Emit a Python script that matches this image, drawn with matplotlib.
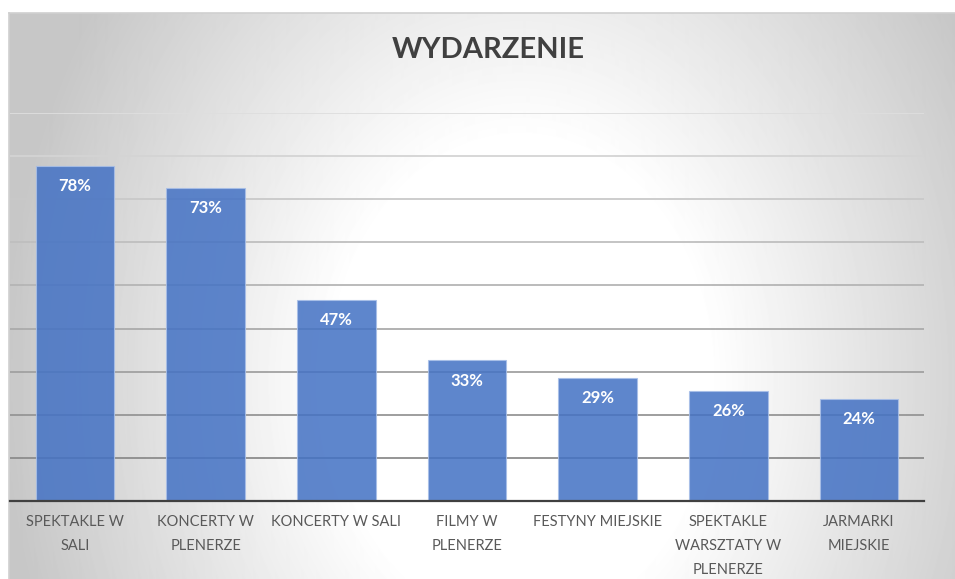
import numpy as np
import matplotlib
matplotlib.use("Agg")
import matplotlib.pyplot as plt

categories = ["SPEKTAKLE W\nSALI", "KONCERTY W\nPLENERZE", "KONCERTY W SALI",
              "FILMY W\nPLENERZE", "FESTYNY MIEJSKIE", "SPEKTAKLE\nWARSZTATY W\nPLENERZE",
              "JARMARKI\nMIEJSKIE"]
values = [0.777, 0.726, 0.466, 0.326, 0.286, 0.256, 0.236]
labels = ["78%", "73%", "47%", "33%", "29%", "26%", "24%"]
grid_ticks = [0.1, 0.2, 0.3, 0.4, 0.5, 0.6, 0.7, 0.8, 0.9]

plt.rcParams['font.family'] = ['Lato', 'DejaVu Sans']

W, H = 955, 579
fig = plt.figure(figsize=(W / 100, H / 100), dpi=100)
fig.patch.set_facecolor('white')

# chart frame with radial grey gradient
fl, fb, fw, fh = 9 / W, 0, 946 / W, 566 / H
bg = fig.add_axes([fl, fb, fw, fh], zorder=0)
xx, yy = np.meshgrid(np.arange(9, 955), np.arange(13, 579))
r = np.sqrt(((xx - 520) / 470) ** 2 + ((yy - 380) / 600) ** 2)
shade = 1 - 0.22 * np.clip((r - 0.4) / 0.7, 0, 1)
bg.imshow(shade, cmap='gray', vmin=0, vmax=1, aspect='auto', interpolation='bilinear')
bg.set_xticks([])
bg.set_yticks([])
for s in ['right', 'bottom']:
    bg.spines[s].set_visible(False)
for s in ['top', 'left']:
    bg.spines[s].set_color('#d0d0d0')
    bg.spines[s].set_linewidth(1.2)

ax = fig.add_axes([9.7 / W, 78 / H, 914.6 / W, 388 / H], zorder=1)
ax.patch.set_alpha(0)
x = np.arange(len(categories))
ax.set_xlim(-0.5, len(categories) - 0.5)
ax.set_ylim(0, 0.9)

for v in grid_ticks:
    g = 0.55 + (v - 0.1) / 0.8 * 0.32
    ax.axhline(v, color=(g, g, g), lw=1.3, zorder=1)

bars = ax.bar(x, values, width=0.6, color='#4472C4', alpha=0.86,
              edgecolor='#a8bfe8', linewidth=0.8, zorder=2)
for xi, v, lab in zip(x, values, labels):
    ax.annotate(lab, (xi, v), xytext=(0, -14.5), textcoords='offset points',
                ha='center', va='center', color='white', fontsize=12,
                fontweight='bold', zorder=3)

ax.set_yticks([])
ax.set_xticks(x)
ax.set_xticklabels(categories, fontsize=10.5, color='#595959', linespacing=1.9)
ax.tick_params(axis='x', length=0, pad=10)
for s in ['top', 'right', 'left']:
    ax.spines[s].set_visible(False)
ax.spines['bottom'].set_color('#404040')
ax.spines['bottom'].set_linewidth(1.6)
ax.spines['bottom'].set_zorder(4)

fig.text(488 / W, 1 - 50 / H, "WYDARZENIE", ha='center', va='center',
         fontsize=21, fontweight='bold', color='#404040')

fig.savefig('out.png', dpi=100)
